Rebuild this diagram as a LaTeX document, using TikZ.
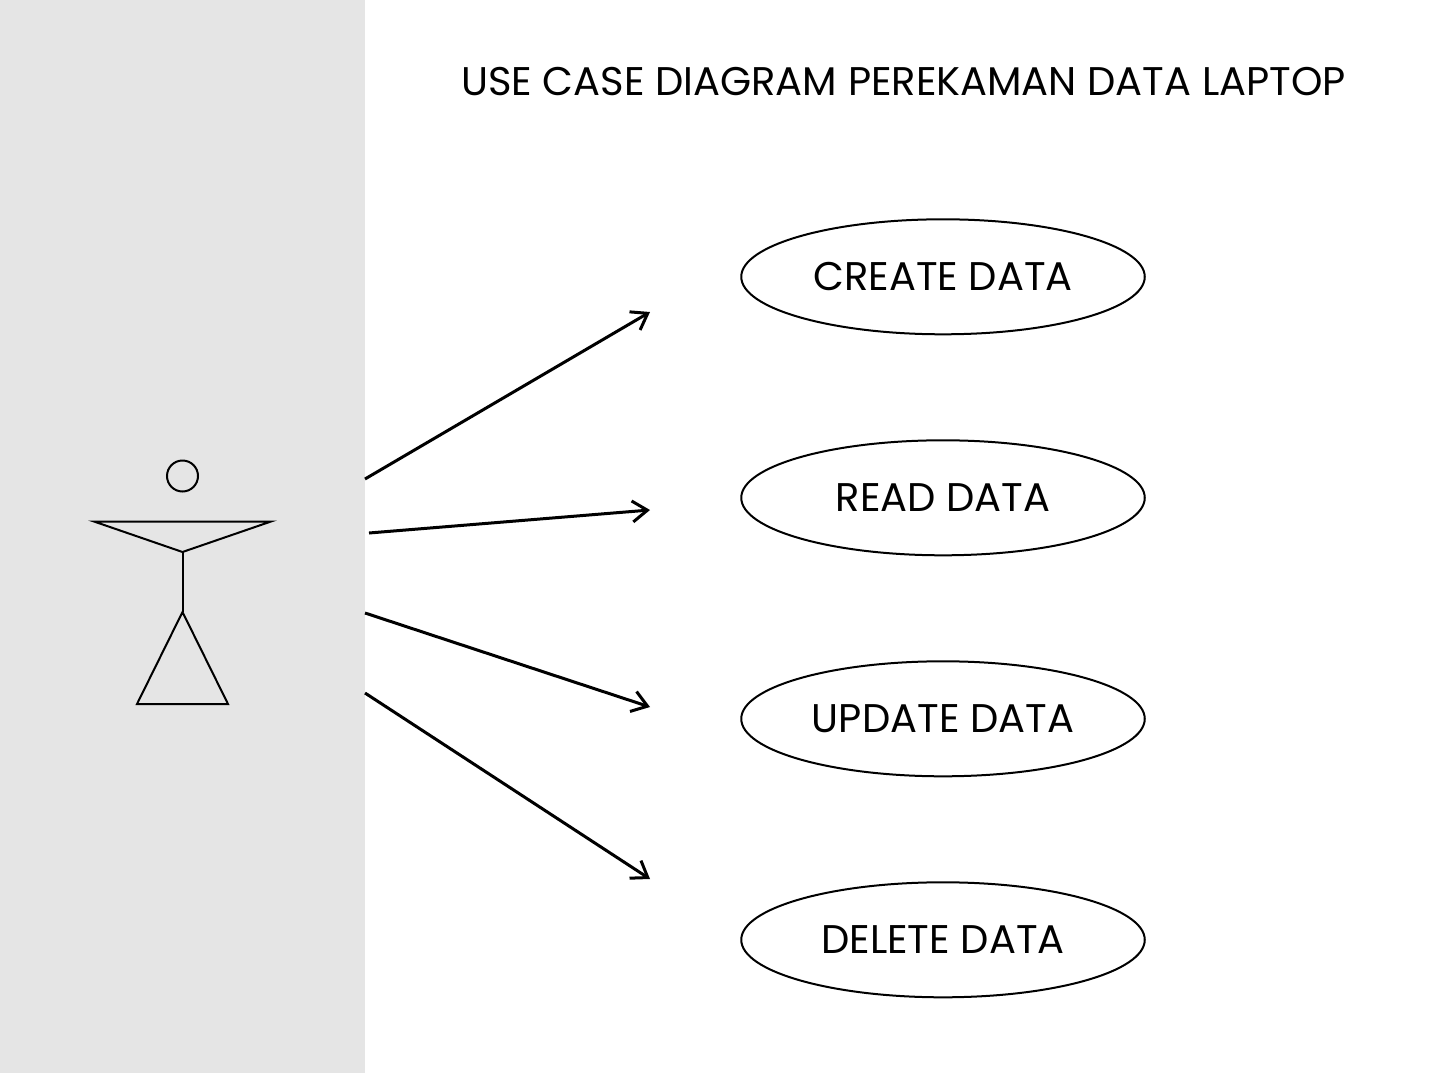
\documentclass[tikz,border=0pt]{standalone}
\usepackage{fontspec}
\setmainfont{Poppins}
\usetikzlibrary{arrows.meta,shapes.geometric}
\definecolor{panelgray}{HTML}{E5E5E5}
\tikzset{
  usecase/.style={ellipse,draw,line width=2pt,minimum width=403.5pt,minimum height=115pt,inner sep=0pt,font=\fontsize{40}{48}\selectfont},
  assoc/.style={line width=3pt,-{Straight Barb[length=15pt,width=21pt,line width=3pt]}},
  figure/.style={line width=2pt}
}
\begin{document}
\begin{tikzpicture}[x=1pt,y=-1pt]
      \useasboundingbox (0,0) rectangle (1442,1073);
      \fill[panelgray] (0,0) rectangle (365,1073);

      \node[font=\fontsize{40}{48}\selectfont] (title) at (903.5,81.7) {USE CASE DIAGRAM PEREKAMAN DATA LAPTOP};

      \node[usecase] (create) at (943,276.8) {CREATE DATA};
      \node[usecase] (read) at (943,497.8) {READ DATA};
      \node[usecase] (update) at (943,718.8) {UPDATE DATA};
      \node[usecase] (delete) at (943,939.8) {DELETE DATA};

      % actor
      \node[circle,draw,figure,minimum size=31pt,inner sep=0pt] (head) at (182.5,476) {};
      \coordinate (armL) at (94,521.5);
      \coordinate (armR) at (271,521.5);
      \coordinate (hip) at (182.5,552);
      \coordinate (crotch) at (182.5,612);
      \coordinate (legL) at (137,704);
      \coordinate (legR) at (228,704);
      \draw[figure] (armL) -- (armR) -- (hip) -- cycle;
      \draw[figure] (hip) -- (crotch);
      \draw[figure] (crotch) -- (legR) -- (legL) -- cycle;

      % arrows
      \coordinate (a1) at (365,479);
      \coordinate (b1) at (650,312);
      \coordinate (a2) at (369,533);
      \coordinate (b2) at (650,510);
      \coordinate (a3) at (365,613);
      \coordinate (b3) at (650,707);
      \coordinate (a4) at (365,693);
      \coordinate (b4) at (650,879);
      \draw[assoc] (a1) -- (b1);
      \draw[assoc] (a2) -- (b2);
      \draw[assoc] (a3) -- (b3);
      \draw[assoc] (a4) -- (b4);
    \end{tikzpicture}
\end{document}
